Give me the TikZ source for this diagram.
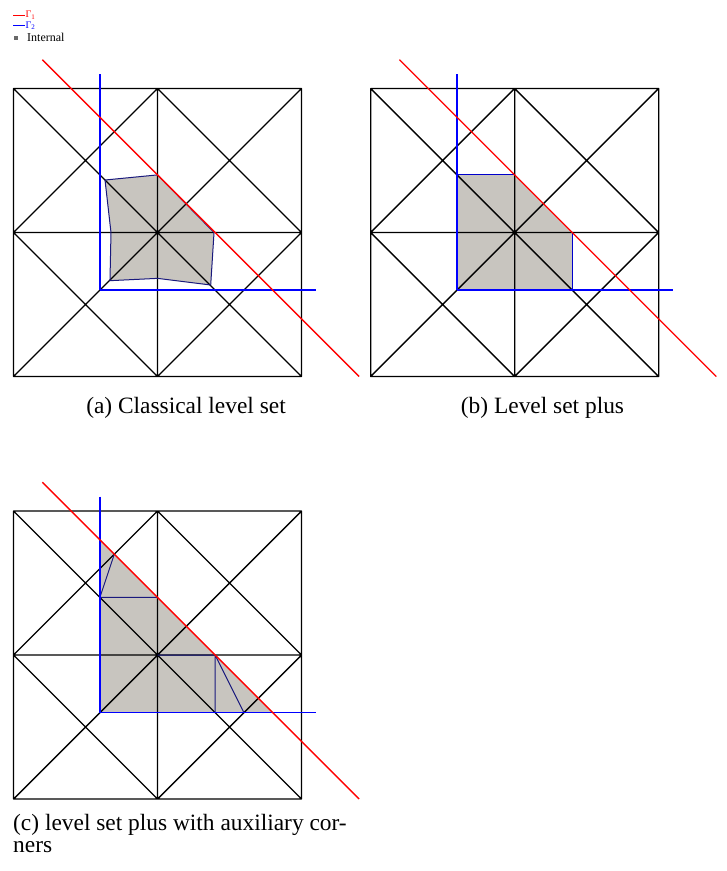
\documentclass[tikz,border=0pt]{standalone}
\usepackage{fontspec}
\setmainfont{Liberation Serif}
\definecolor{fillgray}{RGB}{200,197,191}
\definecolor{navyline}{RGB}{25,25,125}
\definecolor{legendgray}{RGB}{105,105,105}
\newcommand\lsmesh{%
  \draw[mesh] (-2,-2) rectangle (2,2) (0,-2) -- (0,2) (-2,0) -- (2,0)
    (-2,-2) -- (2,2) (-2,2) -- (2,-2)
    (-2,0) -- (0,2) -- (2,0) -- (0,-2) -- cycle;}
\newcommand\lsgammas{%
  \draw[gammatwo] (-0.8,2.2) -- (-0.8,-0.8);
  \draw[gammatwo] (-0.8,-0.8) -- (2.2,-0.8);
  \draw[gammaone] (-1.6,2.4) -- (2.8,-2.0);}
\begin{document}
\begin{tikzpicture}[x=1pt,y=-1pt,
  mesh/.style={line width=1.4pt,black,line join=round},
  gammaone/.style={line width=1.3pt,red},
  gammatwo/.style={line width=1.3pt,blue},
  cutcell/.style={fill=fillgray},
  outline/.style={line width=1pt,navyline,line join=round},
  captiontext/.style={font=\fontsize{23.4}{22.5}\selectfont,inner sep=0pt},
  legendtext/.style={font=\fontsize{12}{14}\selectfont,inner sep=0pt},
  legendgamma/.style={font=\fontsize{10}{12}\selectfont,inner sep=0pt}]
\useasboundingbox (0,0) rectangle (727,871);

% ---------- legend ----------
\draw[red,line width=1.2pt] (13.3,15.5) -- (24.5,15.5);
\node[legendgamma,text=red,anchor=base west] (lgone) at (25.5,17.5) {Γ\textsubscript{1}};
\draw[blue,line width=1.2pt] (13.3,25.5) -- (24.5,25.5);
\node[legendgamma,text=blue,anchor=base west] (lgtwo) at (25.5,28.2) {Γ\textsubscript{2}};
\fill[legendgray] (13.8,35.8) rectangle (17.6,39.6);
\node[legendtext,anchor=base west] (lint) at (27,41.5) {Internal};

% ---------- (a) classical level set ----------
\begin{scope}[shift={(157.5,232.5)},x=72pt,y=72pt]
  \fill[fillgray] (-0.729,0.729) -- (0,0.8) -- (0.785,0) -- (0.739,-0.729)
     -- (0,-0.637) -- (-0.66,-0.669) -- (-0.646,0) -- cycle;
  \lsmesh
  \draw[outline] (-0.729,0.729) -- (0,0.8) -- (0.785,0) -- (0.739,-0.729)
     -- (0,-0.637) -- (-0.66,-0.669) -- (-0.646,0) -- cycle;
  \lsgammas
\end{scope}
\node[captiontext,anchor=base] (capa) at (186,413) {(a) Classical level set};

% ---------- (b) level set plus ----------
\begin{scope}[shift={(514.7,232.5)},x=72pt,y=72pt]
  \fill[fillgray] (-0.8,-0.8) -- (0.8,-0.8) -- (0.8,0) -- (0,0.8) -- (-0.8,0.8) -- cycle;
  \lsmesh
  \draw[outline,blue!80!black] (-0.8,0.8) -- (0,0.8) (0.8,0) -- (0.8,-0.8);
  \lsgammas
\end{scope}
\node[captiontext,anchor=base] (capb) at (542.5,413) {(b) Level set plus};

% ---------- (c) level set plus with auxiliary corners ----------
\begin{scope}[shift={(157.5,655)},x=72pt,y=72pt]
  \fill[fillgray] (-0.8,-0.8) -- (-0.8,1.6) -- (1.6,-0.8) -- cycle;
  \lsmesh
  \draw[outline] (-0.6,1.4) -- (-0.8,0.8) -- (0,0.8);
  \draw[outline] (0,0) -- (0.8,0) -- (0.8,-0.8) (0.8,0) -- (1.2,-0.8);
  \lsgammas
\end{scope}
\node[captiontext,anchor=base west] (capc1) at (13,830.5) {(c) level set plus with auxiliary cor-};
\node[captiontext,anchor=base west] (capc2) at (13,852.7) {ners};
\end{tikzpicture}
\end{document}
